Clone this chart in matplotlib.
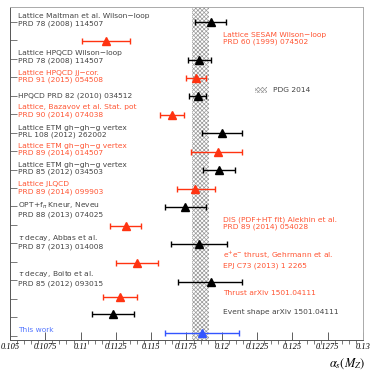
import numpy as np
import matplotlib.pyplot as plt
from matplotlib.patches import Patch
from matplotlib.transforms import blended_transform_factory

# measurements of alpha_s(M_Z), top to bottom
values = [0.1192, 0.1118, 0.1184, 0.1182, 0.1183, 0.1165, 0.1200, 0.1197, 0.1198, 0.1181,
          0.1174, 0.1132, 0.1184, 0.1140, 0.1192, 0.1128, 0.1123, 0.1186]
err_lo = [0.0011, 0.0017, 0.0008, 0.0007, 0.0006, 0.0009, 0.0014, 0.0019, 0.0011, 0.0013,
          0.0014, 0.0011, 0.0020, 0.0015, 0.0023, 0.0012, 0.0015, 0.0026]
err_hi = [0.0011, 0.0017, 0.0008, 0.0007, 0.0006, 0.0008, 0.0014, 0.0017, 0.0011, 0.0014,
          0.0015, 0.0011, 0.0020, 0.0015, 0.0022, 0.0012, 0.0015, 0.0026]
rows = [0, 1.03, 2.06, 3.04, 4.02, 5.05, 6.03, 7.05, 8.04, 9.06,
        10.05, 11.06, 12.05, 13.07, 14.1, 14.9, 15.83, 16.86]
kinds = ['k', 'r', 'k', 'r', 'k', 'r', 'k', 'r', 'k', 'r',
         'k', 'r', 'k', 'r', 'k', 'r', 'k', 'b']

left_labels = ['Lattice Maltman et al. Wilson\u2212loop\nPRD 78 (2008) 114507',
               'Lattice HPQCD Wilson\u2212loop\nPRD 78 (2008) 114507',
               'Lattice HPQCD jj\u2212cor.\nPRD 91 (2015) 054508',
               'HPQCD PRD 82 (2010) 034512',
               'Lattice, Bazavov et al. Stat. pot\nPRD 90 (2014) 074038',
               'Lattice ETM gh\u2212gh\u2212g vertex\nPRL 108 (2012) 262002',
               'Lattice ETM gh\u2212gh\u2212g vertex\nPRD 89 (2014) 014507',
               'Lattice ETM gh\u2212gh\u2212g vertex\nPRD 85 (2012) 034503',
               'Lattice JLQCD\nPRD 89 (2014) 099903',
               r'OPT+f$_\pi$ Kneur, Neveu' + '\nPRD 88 (2013) 074025',
               r'$\tau$ decay, Abbas et al.' + '\nPRD 87 (2013) 014008',
               r'$\tau$ decay, Boito et al.' + '\nPRD 85 (2012) 093015',
               'This work']
left_rows = [-0.11, 1.9, 2.95, 4.01, 4.82, 5.93, 6.91, 7.94, 9.0, 10.16, 11.9, 13.88, 16.69]
left_kinds = ['k', 'k', 'r', 'k', 'r', 'k', 'r', 'k', 'r', 'k', 'k', 'k', 'b']

right_labels = ['Lattice SESAM Wilson\u2212loop\nPRD 60 (1999) 074502',
                'DIS (PDF+HT fit) Alekhin et al.\nPRD 89 (2014) 054028',
                r'e$^{+}$e$^{-}$ thrust, Gehrmann et al.' + '\nEPJ C73 (2013) 1 2265',
                'Thrust arXiv 1501.04111',
                'Event shape arXiv 1501.04111']
right_rows = [0.89, 10.92, 12.87, 14.69, 15.72]
right_kinds = ['r', 'r', 'r', 'r', 'k']

pdg_value = 0.1185
pdg_err = 0.0006
xticks = [0.105, 0.1075, 0.11, 0.1125, 0.115, 0.1175, 0.12, 0.1225, 0.125, 0.1275, 0.13]
xtick_labels = ['0.105', '0.1075', '0.11', '0.1125', '0.115', '0.1175', '0.12',
                '0.1225', '0.125', '0.1275', '0.13']

colors = {'k': 'black', 'r': '#ff3311', 'b': '#3355ff'}
text_colors = {'k': '#444444', 'r': '#ff5533', 'b': '#5577ff'}

plt.rcParams['font.family'] = ['DejaVu Sans']
plt.rcParams['hatch.linewidth'] = 0.5
plt.rcParams['mathtext.fontset'] = 'dejavusans'

fig = plt.figure(figsize=(3.74, 3.74), dpi=100)
ax = fig.add_axes([10 / 374, 34 / 374, 353 / 374, 333 / 374])

ax.axvspan(pdg_value - pdg_err, pdg_value + pdg_err, facecolor='white',
           edgecolor='#999999', hatch='xxxxxxxx', linewidth=0, zorder=1)

for v, lo, hi, r, k in zip(values, err_lo, err_hi, rows, kinds):
    ax.errorbar(v, r, xerr=[[lo], [hi]], fmt='^', color=colors[k], markersize=5.8,
                elinewidth=1, capsize=2.2, capthick=1, zorder=3)

tr = blended_transform_factory(ax.transAxes, ax.transData)
for lab, r, k in zip(left_labels, left_rows, left_kinds):
    ax.text(8 / 353, r, lab, transform=tr, fontsize=5.4, color=text_colors[k],
            va='center', ha='left', linespacing=1.2)
for lab, r, k in zip(right_labels, right_rows, right_kinds):
    ax.text(213 / 353, r, lab, transform=tr, fontsize=5.4, color=text_colors[k],
            va='center', ha='left', linespacing=1.2)

leg = ax.legend(handles=[Patch(facecolor='white', edgecolor='#999999', hatch='xxxxxxxx',
                               linewidth=0, label='PDG 2014')],
                loc='center left', bbox_to_anchor=(238 / 353, 1 - 83 / 333), frameon=False,
                fontsize=5.4, handlelength=1.6, handleheight=1.0, handletextpad=0.8)
for t in leg.get_texts():
    t.set_color('#444444')

ax.set_xlim(0.105, 0.13)
ax.set_ylim(17.24, -0.81)
ax.set_xticks(xticks)
ax.set_xticklabels(xtick_labels, fontsize=6, family='Liberation Serif', style='italic')
ax.set_xticks(np.arange(0.105, 0.13001, 0.0005), minor=True)
ax.tick_params(axis='x', which='major', length=6, width=0.6, color='#444444', pad=2)
ax.tick_params(axis='x', which='minor', length=3, width=0.5, color='#444444')
ax.set_yticks(np.arange(0, 18))
ax.set_yticklabels([])
ax.tick_params(axis='y', which='major', length=5, width=0.5, color='#444444', direction='in')
ax.tick_params(axis='x', direction='in')

for s in ['left', 'bottom']:
    ax.spines[s].set_color('#555555')
    ax.spines[s].set_linewidth(0.7)
for s in ['top', 'right']:
    ax.spines[s].set_color('#aaaaaa')
    ax.spines[s].set_linewidth(0.7)

fig.text(347 / 374, 1 - 364 / 374, r'$\alpha_s(M_Z)$', fontsize=9, ha='center', va='center',
         family='Liberation Serif', math_fontfamily='stix')

fig.savefig('out.png', dpi=100)
